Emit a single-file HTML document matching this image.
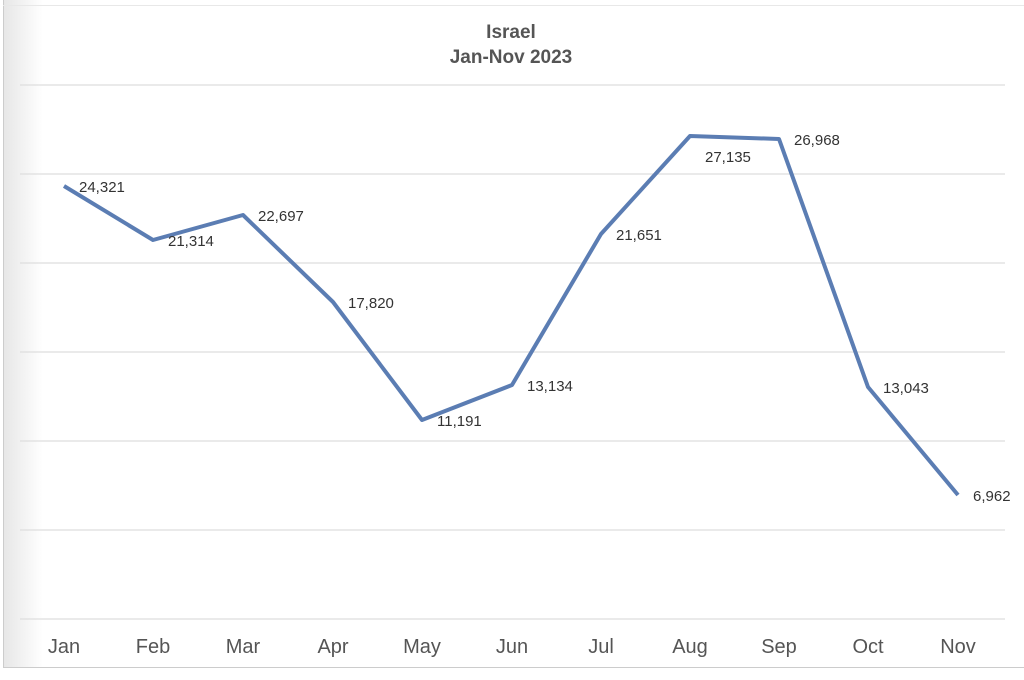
<!DOCTYPE html>
<html><head><style>
body{margin:0;background:#fff;width:1024px;height:675px;overflow:hidden}
</style></head><body>
<svg width="1024" height="675" xmlns="http://www.w3.org/2000/svg" font-family="Liberation Sans, sans-serif">
<defs><linearGradient id="g" x1="0" x2="1"><stop offset="0" stop-color="#e6e6e6"/><stop offset="1" stop-color="#fff"/></linearGradient></defs>
<rect x="0" y="0" width="1024" height="675" fill="#fff"/>
<rect x="3" y="0" width="40" height="667" fill="url(#g)"/>
<line x1="3.5" y1="0" x2="3.5" y2="667" stroke="#ccc"/>
<line x1="3" y1="5.5" x2="1024" y2="5.5" stroke="#e8e8e8"/>
<line x1="3" y1="667.5" x2="1024" y2="667.5" stroke="#ccc"/>
<g stroke="#dedede" stroke-width="1.2">
<line x1="20" x2="1005" y1="85" y2="85"/><line x1="20" x2="1005" y1="174" y2="174"/>
<line x1="20" x2="1005" y1="263" y2="263"/><line x1="20" x2="1005" y1="352" y2="352"/>
<line x1="20" x2="1005" y1="441" y2="441"/><line x1="20" x2="1005" y1="530" y2="530"/>
<line x1="20" x2="1005" y1="619" y2="619"/>
</g>
<g fill="#555" font-weight="bold" font-size="19" text-anchor="middle">
<text x="511" y="38">Israel</text><text x="511" y="63">Jan-Nov 2023</text>
</g>
<polyline fill="none" stroke="#5b7db3" stroke-width="4" stroke-linejoin="round" points="64,186 153,240 243,215 333,302 422,420 512,385 601,234 690,136 779,139 868,387 958,495"/>
<g fill="#333" font-size="15">
<text x="79" y="192">24,321</text><text x="168" y="246">21,314</text><text x="258" y="221">22,697</text>
<text x="348" y="308">17,820</text><text x="437" y="426">11,191</text><text x="527" y="391">13,134</text>
<text x="616" y="240">21,651</text><text x="705" y="162">27,135</text><text x="794" y="145">26,968</text>
<text x="883" y="393">13,043</text><text x="973" y="501">6,962</text>
</g>
<g fill="#555" font-size="20" text-anchor="middle">
<text x="64" y="653">Jan</text><text x="153" y="653">Feb</text><text x="243" y="653">Mar</text>
<text x="333" y="653">Apr</text><text x="422" y="653">May</text><text x="512" y="653">Jun</text>
<text x="601" y="653">Jul</text><text x="690" y="653">Aug</text><text x="779" y="653">Sep</text>
<text x="868" y="653">Oct</text><text x="958" y="653">Nov</text>
</g>
</svg>
</body></html>
